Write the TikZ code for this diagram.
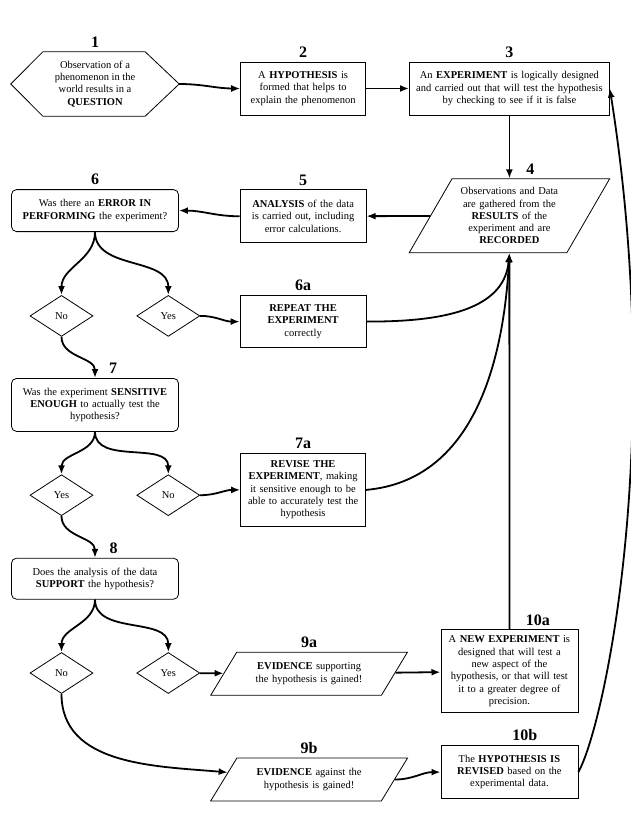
\documentclass[tikz,border=0pt]{standalone}
\usepackage{fontspec}
\setmainfont{Liberation Serif}
\usepackage{tikz}
\usetikzlibrary{shapes.geometric, arrows.meta, positioning}
\newcommand{\boxfont}{\fontsize{10.5}{12.3}\selectfont}
\newcommand{\stepnumfont}{\fontsize{16}{16}\selectfont\bfseries}
\tikzstyle{startbox} = [minimum width=168pt, minimum height=64pt, inner sep=0pt, align=center, font=\boxfont]
\tikzstyle{process} = [rectangle, draw, line width=0.8pt, inner sep=1pt, align=center, font=\boxfont]
\tikzstyle{question} = [rectangle, draw, line width=0.8pt, rounded corners=5pt, text width=165pt, inner sep=1pt, align=center, font=\boxfont]
\tikzstyle{decision} = [diamond, draw, line width=0.8pt, minimum width=63pt, minimum height=41pt, inner sep=0pt, font=\boxfont]
\tikzstyle{record} = [trapezium, draw, line width=0.8pt, trapezium stretches=true, inner sep=1pt, align=center, font=\boxfont]
\tikzstyle{arrow} = [-{Latex[length=9pt, width=7pt]}, line width=1.8pt]
\tikzstyle{numlabel} = [font=\stepnumfont, inner sep=0pt]

\begin{document}
\begin{tikzpicture}[x=1pt, y=1pt, label distance=4pt]
\useasboundingbox (0,0) rectangle (630,-829);

% First row: question, hypothesis, experiment
\node[startbox, label={[numlabel]above:1}] (step1) at (95,-84) {Observation of a\\phenomenon in the\\world results in a\\\textbf{QUESTION}};
\node[process, text width=123pt, minimum height=53pt, right=61pt of step1, yshift=-4.5pt, label={[numlabel]above:2}] (step2) {A \textbf{HYPOTHESIS} is\\formed that helps to\\explain the phenomenon};
\node[process, text width=198pt, minimum height=53pt, right=43pt of step2, label={[numlabel]above:3}] (step3) {An \textbf{EXPERIMENT} is logically designed\\and carried out that will test the hypothesis\\by checking to see if it is false};

% Second row: results, analysis, error check
\node[record, trapezium left angle=57, trapezium right angle=123, text width=100pt, minimum width=201pt, minimum height=74pt, below=63pt of step3, label={[numlabel, xshift=21pt]above:4}] (step4) {Observations and Data\\are gathered from the\\\textbf{RESULTS} of the\\experiment and are\\\textbf{RECORDED}};
\node[process, text width=124pt, minimum height=53pt, below=74pt of step2, label={[numlabel]above:5}] (step5) {\textbf{ANALYSIS} of the data\\is carried out, including\\error calculations.};
\node[question, minimum height=42pt, below=73pt of step1, label={[numlabel]above:6}] (step6) {Was there an \textbf{ERROR IN}\\\textbf{PERFORMING} the experiment?};

% Answers to 6
\node[decision, below=63pt of step6, xshift=-33.5pt] (d6no) {No};
\node[decision, right=43pt of d6no] (d6yes) {Yes};
\node[process, text width=124pt, minimum height=52pt, below=52pt of step5, label={[numlabel]above:6a}] (step6a) {\textbf{REPEAT THE}\\\textbf{EXPERIMENT}\\correctly};

% Sensitivity check
\node[question, minimum height=53pt, below=146pt of step6, label={[numlabel, xshift=18pt]above:7}] (step7) {Was the experiment \textbf{SENSITIVE}\\\textbf{ENOUGH} to actually test the\\hypothesis?};
\node[decision, below=42.5pt of step7, xshift=-33.5pt] (d7yes) {Yes};
\node[decision, right=43pt of d7yes] (d7no) {No};
\node[process, text width=123pt, minimum height=73pt, below=105pt of step6a, label={[numlabel]above:7a}] (step7a) {\textbf{REVISE THE}\\\textbf{EXPERIMENT}, making\\it sensitive enough to be\\able to accurately test the\\hypothesis};

% Support check
\node[question, minimum height=41pt, below=126pt of step7, label={[numlabel, xshift=18.5pt]above:8}] (step8) {Does the analysis of the data\\\textbf{SUPPORT} the hypothesis?};
\node[decision, below=52.5pt of step8, xshift=-33.5pt] (d8no) {No};
\node[decision, right=43pt of d8no] (d8yes) {Yes};

% Evidence and outcomes
\node[record, trapezium left angle=48, trapezium right angle=132, text width=116pt, minimum width=197pt, minimum height=43pt, below=125pt of step7a, xshift=6pt, label={[numlabel]above:9a}] (step9a) {\textbf{EVIDENCE} supporting\\the hypothesis is gained!};
\node[record, trapezium left angle=48, trapezium right angle=132, text width=116pt, minimum width=197pt, minimum height=43pt, below=62pt of step9a, label={[numlabel]above:9b}] (step9b) {\textbf{EVIDENCE} against the\\hypothesis is gained!};
\node[process, text width=135pt, minimum height=83pt, below=514pt of step3, label={[numlabel, xshift=28.5pt]above:10a}] (step10a) {A \textbf{NEW EXPERIMENT} is\\designed that will test a\\new aspect of the\\hypothesis, or that will test\\it to a greater degree of\\precision.};
\node[process, text width=135pt, minimum height=53pt, below=32pt of step10a, label={[numlabel, xshift=15.5pt]above:10b}] (step10b) {The \textbf{HYPOTHESIS IS}\\\textbf{REVISED} based on the\\experimental data.};

% hexagon outline of step 1
\draw[line width=0.8pt] (step1.west) -- ([xshift=32pt]step1.north west) -- ([xshift=-34pt]step1.north east) -- (step1.east) -- ([xshift=-34pt]step1.south east) -- ([xshift=32pt]step1.south west) -- cycle;

\coordinate (in4) at (step4.center |- step4.south);

% First row arrows
\draw[arrow] (step1.east) to[out=0, in=180] (step2.west);
\draw[arrow] (step2) -- (step3);
\draw[arrow] (step3.south) -- (step3.south |- step4.north);
\draw[arrow] (step4) -- (step5);
\draw[arrow] (step5.west) to[out=180, in=0] (step6.east);

% Branches of 6
\draw[arrow] (step6.south) to[out=-90, in=90] (d6no.north);
\draw[arrow] (step6.south) to[out=-90, in=90] (d6yes.north);
\draw[arrow] (d6yes.east) to[out=0, in=180] (step6a.west);
\draw[arrow] (step6a.east) to[out=0, in=-95] (in4);
\draw[arrow] (d6no.south) to[out=-90, in=90] (step7.north);

% Branches of 7
\draw[arrow] (step7.south) to[out=-90, in=90] (d7yes.north);
\draw[arrow] (step7.south) to[out=-90, in=90] (d7no.north);
\draw[arrow] (d7no.east) to[out=0, in=180] (step7a.west);
\draw[arrow] (step7a.east) to[out=5, in=-93] (in4);
\draw[arrow] (d7yes.south) to[out=-90, in=90] (step8.north);

% Branches of 8
\draw[arrow] (step8.south) to[out=-90, in=90] (d8no.north);
\draw[arrow] (step8.south) to[out=-90, in=90] (d8yes.north);
\draw[arrow] (d8yes) -- (step9a);
\draw[arrow] (step9a) -- (step10a);
\draw[arrow] (step10a.north) -- (in4);
\draw[arrow] (d8no.south) to[out=-90, in=175] (step9b);
\draw[arrow] (step9b.east) to[out=0, in=180] (step10b.west);
\draw[arrow] (step10b.east) to[out=60, in=-81, out distance=50pt, in distance=360pt] (step3.east);

\end{tikzpicture}
\end{document}
